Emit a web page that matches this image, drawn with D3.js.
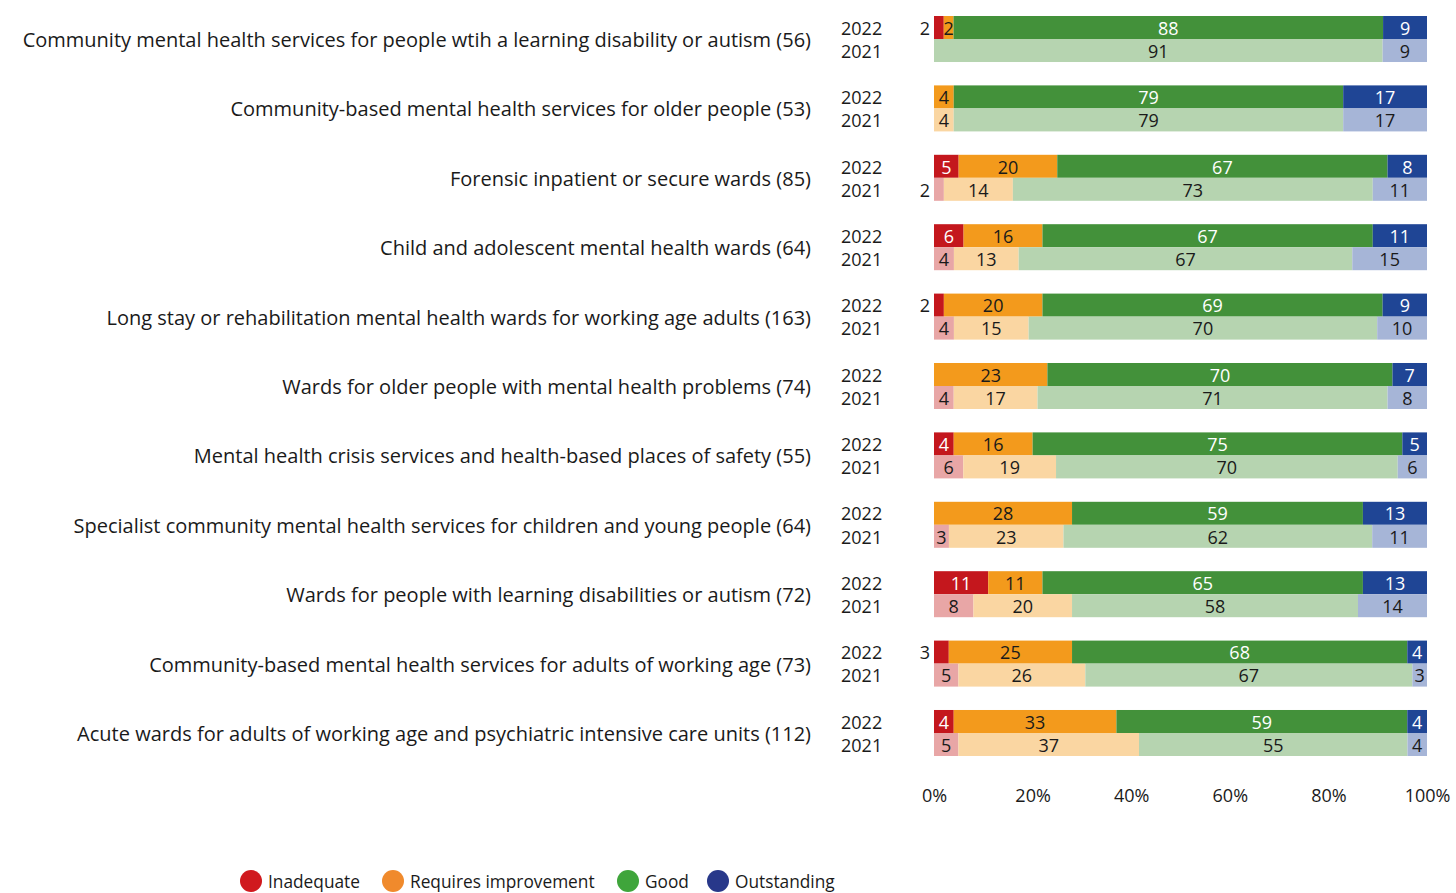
<!DOCTYPE html>
<html>
<head>
<meta charset="utf-8">
<script src="https://cdn.jsdelivr.net/npm/d3@7"></script>
<style>
  body { margin: 0; background: #fff; }
  svg text { font-family: "Open Sans", "Noto Sans", sans-serif; fill: #1a1a1a; }
</style>
</head>
<body>
<div id="chart"></div>
<script>
// services, with number of locations in brackets
var categories = [
  "Community mental health services for people wtih a learning disability or autism (56)",
  "Community-based mental health services for older people (53)",
  "Forensic inpatient or secure wards (85)",
  "Child and adolescent mental health wards (64)",
  "Long stay or rehabilitation mental health wards for working age adults (163)",
  "Wards for older people with mental health problems (74)",
  "Mental health crisis services and health-based places of safety (55)",
  "Specialist community mental health services for children and young people (64)",
  "Wards for people with learning disabilities or autism (72)",
  "Community-based mental health services for adults of working age (73)",
  "Acute wards for adults of working age and psychiatric intensive care units (112)"
];
var years = ["2022", "2021"];
var ratings = ["Inadequate", "Requires improvement", "Good", "Outstanding"];

// % per rating: [inadequate, requires improvement, good, outstanding]
var values2022 = [
  [2, 2, 88, 9],
  [0, 4, 79, 17],
  [5, 20, 67, 8],
  [6, 16, 67, 11],
  [2, 20, 69, 9],
  [0, 23, 70, 7],
  [4, 16, 75, 5],
  [0, 28, 59, 13],
  [11, 11, 65, 13],
  [3, 25, 68, 4],
  [4, 33, 59, 4]
];
var values2021 = [
  [0, 0, 91, 9],
  [0, 4, 79, 17],
  [2, 14, 73, 11],
  [4, 13, 67, 15],
  [4, 15, 70, 10],
  [4, 17, 71, 8],
  [6, 19, 70, 6],
  [3, 23, 62, 11],
  [8, 20, 58, 14],
  [5, 26, 67, 3],
  [5, 37, 55, 4]
];
// small inadequate values labelled outside the bar ("row-year")
var outsideLabels = ["0-2022", "2-2021", "4-2022", "9-2022"];
var tickValues = [0, 0.2, 0.4, 0.6, 0.8, 1];

var width = 1456, height = 893;

var colors = {
  "2022": ["#c4171d", "#f39a1c", "#43913a", "#1f4595"],
  "2021": ["#e8a6a6", "#fad6a2", "#b6d4b0", "#a6b5d7"]
};
var labelColors = {
  "2022": ["#fff", "#1a1a1a", "#fff", "#fff"],
  "2021": ["#1a1a1a", "#1a1a1a", "#1a1a1a", "#1a1a1a"]
};
var legendColors = ["#d0191e", "#f08a2c", "#3fa53b", "#28388a"];

var svg = d3.select("#chart").append("svg")
    .attr("width", width)
    .attr("height", height);

var x = d3.scaleLinear().domain([0, 1]).range([934, 1427]);

var y = d3.scaleBand()
    .domain(d3.range(categories.length))
    .range([16, 756])
    .paddingInner(0.337);

var yYear = d3.scaleBand()
    .domain(years)
    .range([0, y.bandwidth()]);

var rows = [];
categories.forEach(function(c, i) {
  years.forEach(function(yr) {
    var v = (yr === "2022" ? values2022 : values2021)[i];
    var total = d3.sum(v), acc = 0;
    var segs = v.map(function(d, k) {
      var s = {rating: k, value: d, x0: acc / total, x1: (acc + d) / total};
      acc += d;
      return s;
    });
    rows.push({cat: i, year: yr, segs: segs});
  });
});

function isOutside(d) {
  return d.rating === 0 && outsideLabels.indexOf(d.row.cat + "-" + d.row.year) >= 0;
}

// category labels
svg.append("g").selectAll("text")
  .data(categories)
  .enter().append("text")
    .attr("x", 811)
    .attr("y", function(d, i) { return y(i) + y.bandwidth() / 2; })
    .attr("dy", "0.4em")
    .attr("text-anchor", "end")
    .style("font-size", "20px")
    .text(function(d) { return d; });

var row = svg.append("g").selectAll("g")
  .data(rows)
  .enter().append("g")
    .attr("transform", function(d) { return "translate(0," + (y(d.cat) + yYear(d.year)) + ")"; });

row.append("text")
    .attr("x", 841)
    .attr("y", yYear.bandwidth() / 2)
    .attr("dy", "0.4em")
    .style("font-size", "18px")
    .text(function(d) { return d.year; });

var seg = row.selectAll(".seg")
  .data(function(d) { return d.segs.filter(function(s) { return s.value > 0; }).map(function(s) { s.row = d; return s; }); })
  .enter().append("g")
    .attr("class", "seg");

seg.append("rect")
    .attr("x", function(d) { return x(d.x0); })
    .attr("width", function(d) { return x(d.x1) - x(d.x0); })
    .attr("height", yYear.bandwidth())
    .attr("fill", function(d) { return colors[d.row.year][d.rating]; });

seg.append("text")
    .attr("x", function(d) { return isOutside(d) ? x(0) - 4 : (x(d.x0) + x(d.x1)) / 2; })
    .attr("y", yYear.bandwidth() / 2)
    .attr("dy", "0.4em")
    .attr("text-anchor", function(d) { return isOutside(d) ? "end" : "middle"; })
    .style("font-size", "18px")
    .style("fill", function(d) { return isOutside(d) ? "#1a1a1a" : labelColors[d.row.year][d.rating]; })
    .text(function(d) { return d.value; });

// x axis
var axis = svg.append("g")
    .attr("transform", "translate(0,785)")
    .call(d3.axisBottom(x).tickValues(tickValues).tickSize(0).tickFormat(d3.format(".0%")));
axis.select(".domain").remove();
axis.selectAll("text")
    .attr("dy", "0.4em")
    .attr("y", 10)
    .style("font-size", "18px")
    .style("font-family", "'Open Sans', sans-serif")
    .attr("fill", "#1a1a1a");

// legend
var legendX = [251, 393, 628, 718];
var legend = svg.append("g").selectAll("g")
  .data(ratings)
  .enter().append("g")
    .attr("transform", function(d, i) { return "translate(" + legendX[i] + ",881)"; });
legend.append("circle")
    .attr("r", 11)
    .attr("fill", function(d, i) { return legendColors[i]; });
legend.append("text")
    .attr("transform", "translate(17,0) scale(0.91,1)")
    .attr("dy", "0.35em")
    .style("font-size", "19px")
    .text(function(d) { return d; });
</script>
</body>
</html>
